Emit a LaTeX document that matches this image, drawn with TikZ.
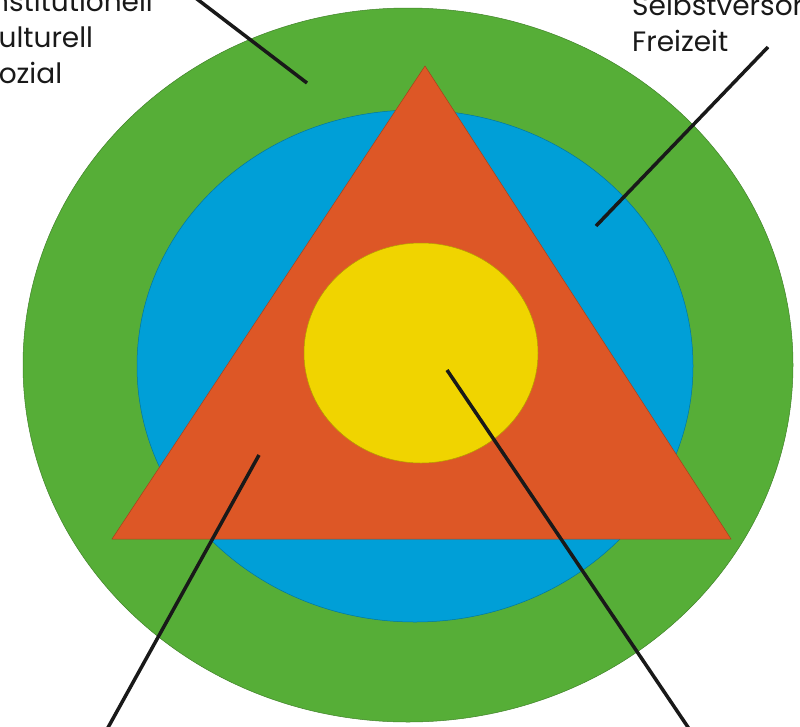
\documentclass[tikz,border=0pt]{standalone}
\usepackage{fontspec}
\setmainfont{Poppins}

\definecolor{ringgreen}{HTML}{56AE37}
\definecolor{ringblue}{HTML}{009FD7}
\definecolor{triorange}{HTML}{DD5726}
\definecolor{coreyellow}{HTML}{F0D400}

\newcommand*{\picw}{800}
\newcommand*{\pich}{726}

\begin{document}
\begin{tikzpicture}
[
	x=1pt,y=-1pt,
	ring/.style={draw=#1!75!black,line width=0.5pt,fill=#1},
	pointer/.style={line width=3.5pt,black!90},
	lbl/.style={font=\fontsize{28}{36}\selectfont,align=left,anchor=base west,inner sep=0pt,text=black!90}
]

	\useasboundingbox (0,0) rectangle (\picw,\pich);
	\clip (0,0) rectangle (\picw,\pich);

	% rings
	\draw[ring=ringgreen] (408,365) ellipse [x radius=385, y radius=357];
	\draw[ring=ringblue] (415,366) ellipse [x radius=278, y radius=256];
	\draw[ring=triorange] (425,66) -- (731,539) -- (112,539) -- cycle;
	\draw[ring=coreyellow] (421,353) ellipse [x radius=117, y radius=110];

	% labels (base anchor sits on the last line)
	\node[lbl] (outerlbl) at (-16,83) {institutionell\\kulturell\\sozial};
	\node[lbl] (ringlbl) at (632,51) {Selbstversorgung\\Freizeit};

	% pointer ends
	\coordinate (a1) at (176,-17);
	\coordinate (a2) at (307,83);
	\coordinate (b1) at (768,47);
	\coordinate (b2) at (596,226);
	\coordinate (c1) at (259,455);
	\coordinate (c2) at (100,742);
	\coordinate (d1) at (447,370);
	\coordinate (d2) at (698,742);

	% pointers
	\draw[pointer] (a1) -- (a2);
	\draw[pointer] (b1) -- (b2);
	\draw[pointer] (c1) -- (c2);
	\draw[pointer] (d1) -- (d2);

\end{tikzpicture}
\end{document}
